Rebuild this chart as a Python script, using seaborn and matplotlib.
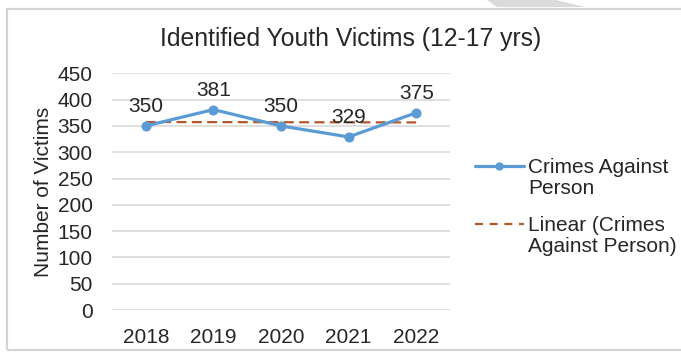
import numpy as np
import pandas as pd
import matplotlib
matplotlib.use("Agg")
import matplotlib.pyplot as plt
from matplotlib.patches import Polygon, Rectangle
from matplotlib.lines import Line2D
import seaborn as sns

# Data
years = ["2018", "2019", "2020", "2021", "2022"]
victims = [350, 381, 350, 329, 375]
series_name = "Crimes Against\nPerson"
trend_name = "Linear (Crimes\nAgainst Person)"
y_ticks = [0, 50, 100, 150, 200, 250, 300, 350, 400, 450]

sns.set_theme(style="white")
plt.rcParams["font.family"] = ["Liberation Sans", "DejaVu Sans"]

TEXT = "#262626"
BLUE = "#5B9BD5"
TREND = "#B4582B"
GRID = "#D9D9D9"
FS = 15

W, H = 681, 352
fig = plt.figure(figsize=(W / 100, H / 100), dpi=100)
fig.patch.set_facecolor("white")

def px(x0, y0, x1, y1):
    return [x0 / W, 1 - y1 / H, (x1 - x0) / W, (y1 - y0) / H]

ax = fig.add_axes(px(112, 73.3, 450, 310))

df = pd.DataFrame({"year": years, "victims": victims})
xpos = np.arange(len(years))

sns.lineplot(x=xpos, y=df["victims"], ax=ax, color=BLUE, linewidth=2.3,
             marker="o", markersize=6.5, markeredgecolor=BLUE, zorder=3)

# Linear trendline fitted to the series
slope, intercept = np.polyfit(xpos, victims, 1)
trend = slope * xpos + intercept
ax.plot(xpos, trend, color=TREND, linewidth=1.6, dashes=(4.5, 2.4), zorder=2)

for x, v in zip(xpos, victims):
    ax.annotate(str(v), (x, v), xytext=(0, 14), textcoords="offset points",
                ha="center", va="center", fontsize=FS, color=TEXT)

ax.set_xlim(-0.5, len(years) - 0.5)
ax.set_ylim(0, 450)
ax.set_yticks(y_ticks)
ax.set_yticklabels([str(t) for t in y_ticks])
ax.set_xticks(xpos)
ax.set_xticklabels(years)
ax.tick_params(axis="both", length=0, labelsize=FS, labelcolor=TEXT)
ax.tick_params(axis="y", pad=14)
ax.tick_params(axis="x", pad=13)
ax.yaxis.grid(True, color=GRID, linewidth=1.2)
ax.set_axisbelow(True)
for s in ax.spines.values():
    s.set_visible(False)
ax.set_ylabel("Number of Victims", fontsize=FS, color=TEXT, labelpad=3)
ax.set_xlabel("")

fig.text(351 / W, 1 - 39 / H, "Identified Youth Victims (12-17 yrs)",
         ha="center", va="center", fontsize=17.8, color=TEXT)

handles = [
    Line2D([], [], color=BLUE, linewidth=2.3, marker="o", markersize=5),
    Line2D([], [], color=TREND, linewidth=1.6, dashes=(3.6, 3.0)),
]
leg = fig.legend(handles, [series_name, trend_name], loc="upper left",
                 bbox_to_anchor=(475 / W, 1 - 158 / H), frameon=False,
                 fontsize=FS, handlelength=2.35, handletextpad=0.2,
                 handleheight=1.0, labelspacing=0.85, borderpad=0,
                 borderaxespad=0)
for t in leg.get_texts():
    t.set_color(TEXT)
    t.set_linespacing(1.15)
# Put each legend key beside the first line of its label
for col in leg._legend_handle_box.get_children():
    for row in col.get_children():
        row.align = "top"

# Outer frame of the chart area
fig.add_artist(Rectangle((7 / W, 1 - 350 / H), (W + 10 - 7) / W, (350 - 9) / H,
                         transform=fig.transFigure, fill=False,
                         edgecolor="#D4D4D4", linewidth=1.6, clip_on=False))
# Faint grey shape along the top edge
fig.add_artist(Polygon([(487 / W, 1.0), (556 / W, 1.0), (585 / W, 1 - 7 / H),
                        (497 / W, 1 - 7 / H)], closed=True,
                       transform=fig.transFigure, facecolor="#DADADA",
                       edgecolor="none"))

fig.savefig("out.png", dpi=100)
